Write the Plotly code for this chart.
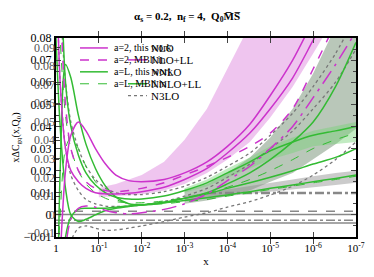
import plotly.graph_objects as go

# ---------------- data ----------------
X = [1, 0.8, 0.6, 0.45, 0.3, 0.2, 0.12, 0.07, 0.04, 0.02, 0.01,
     3e-3, 1e-3, 3e-4, 1e-4, 3e-5, 1e-5, 3e-6, 1e-6, 3e-7, 1e-7]

# magenta (a=2) curves
m_nlo = [None, -0.02, 0.02, 0.036, 0.042, 0.038, 0.030, 0.023, 0.018, 0.0155, 0.015,
         0.016, 0.019, 0.024, 0.031, 0.041, 0.054, 0.070, 0.088, 0.108, 0.13]
m_nlo2 = [0.12, 0.06, 0.030, 0.020, 0.015, 0.012, 0.010, 0.0095, 0.0095, 0.0098, 0.0105,
          0.0125, 0.016, 0.021, 0.028, 0.037, 0.048, 0.062, 0.079, 0.098, 0.12]
m_low = [-0.12, -0.05, -0.015, -0.002, 0.003, 0.004, 0.0035, 0.002, 0.001, 0.0005, 0.001,
         0.0025, 0.005, 0.0095, 0.0155, 0.022, 0.030, 0.040, 0.053, 0.068, 0.083]
m_ll = [0.2, 0.10, 0.05, 0.030, 0.020, 0.015, 0.012, 0.011, 0.0105, 0.011, 0.012,
        0.0145, 0.018, 0.022, 0.026, 0.031, 0.037, 0.048, 0.066, 0.087, 0.11]

# green (a=L) curves
g_nnlo1 = [-0.1, 0.02, 0.068, 0.062, 0.045, 0.032, 0.021, 0.013, 0.008, 0.005, 0.0045,
           0.0055, 0.0075, 0.010, 0.014, 0.019, 0.025, 0.033, 0.042, 0.058, 0.078]
g_nnlo2 = [0.2, 0.12, 0.06, 0.04, 0.027, 0.019, 0.0135, 0.010, 0.008, 0.0072, 0.0072,
           0.0085, 0.011, 0.0145, 0.019, 0.024, 0.029, 0.033, 0.036, 0.038, 0.040]
g_nnlo3 = [-0.15, -0.05, -0.01, -0.001, 0.0025, 0.003, 0.003, 0.003, 0.0035, 0.004, 0.0045,
           0.0058, 0.0075, 0.0095, 0.012, 0.0145, 0.017, 0.020, 0.023, 0.026, 0.030]
g_nnlo4 = [0.08, 0.04, 0.012, 0.0, -0.003, -0.002, 0.0, 0.002, 0.003, 0.0038, 0.0045,
           0.0055, 0.0065, 0.0078, 0.009, 0.0105, 0.012, 0.0135, 0.015, 0.0165, 0.018]
g_ll1 = [0.15, 0.08, 0.045, 0.030, 0.020, 0.014, 0.010, 0.0075, 0.006, 0.0055, 0.0055,
         0.0063, 0.0078, 0.0098, 0.0125, 0.016, 0.020, 0.025, 0.030, 0.034, 0.037]
g_ll2 = [-0.05, 0.0, 0.03, 0.035, 0.03, 0.022, 0.015, 0.010, 0.007, 0.005, 0.0048,
         0.005, 0.006, 0.007, 0.0085, 0.010, 0.0115, 0.013, 0.0145, 0.016, 0.0175]

# gray dotted (N3LO)
d_n3lo1 = [0.2, 0.1, 0.06, 0.042, 0.03, 0.022, 0.016, 0.012, 0.010, 0.0092, 0.0092,
           0.0105, 0.013, 0.017, 0.022, 0.028, 0.036, 0.046, 0.058, 0.073, 0.09]
d_n3lo2 = [-0.2, -0.08, -0.03, -0.012, -0.006, -0.005, -0.006, -0.007, -0.0068, -0.006, -0.005,
           -0.003, -0.001, 0.001, 0.0035, 0.006, 0.009, 0.013, 0.018, 0.025, 0.033]
d_n3lo3 = [0.12, 0.06, 0.03, 0.018, 0.011, 0.007, 0.005, 0.004, 0.0038, 0.004, 0.0045,
           0.006, 0.0085, 0.012, 0.017, 0.023, 0.030, 0.038, 0.048, 0.060, 0.075]

# flat gray reference lines
h_levels = [0.0099, 0.0017, 0.0002, -0.0024, -0.0037]
h_start = [3e-4, 1, 1, 1, 1]

# bands (x from 0.1 for pink, from 1e-3 for others)
XP = [0.1, 0.07, 0.04, 0.02, 0.01, 3e-3, 1e-3, 3e-4, 1e-4, 3e-5, 1e-5, 3e-6, 1e-6, 3e-7, 1e-7]
pink_lo = [0.008, 0.0082, 0.0085, 0.0088, 0.0092, 0.011, 0.014, 0.019, 0.025, 0.033, 0.044,
           0.058, 0.073, 0.090, 0.110]
pink_hi = [0.012, 0.013, 0.014, 0.016, 0.018, 0.024, 0.034, 0.048, 0.066, 0.086, 0.108,
           0.13, 0.15, 0.17, 0.19]
XB = [1e-3, 3e-4, 1e-4, 3e-5, 1e-5, 3e-6, 1e-6, 3e-7, 1e-7]
dg_hi = [0.011, 0.014, 0.019, 0.026, 0.035, 0.048, 0.064, 0.085, 0.11]
dg_lo = [0.005, 0.0065, 0.0085, 0.011, 0.015, 0.019, 0.025, 0.032, 0.039]
lg_hi = [0.012, 0.016, 0.021, 0.026, 0.031, 0.035, 0.038, 0.040, 0.042]
lg_lo = [0.010, 0.013, 0.017, 0.021, 0.025, 0.028, 0.031, 0.032, 0.033]
gr_hi = [0.0085, 0.010, 0.0115, 0.013, 0.0145, 0.016, 0.0175, 0.019, 0.020]
gr_lo = [0.0065, 0.0075, 0.0085, 0.0095, 0.0105, 0.0115, 0.0125, 0.0135, 0.0145]

x_ticks = [1, 1e-1, 1e-2, 1e-3, 1e-4, 1e-5, 1e-6, 1e-7]
x_ticktext = ["1", "10<sup>-1</sup>", "10<sup>-2</sup>", "10<sup>-3</sup>", "10<sup>-4</sup>",
              "10<sup>-5</sup>", "10<sup>-6</sup>", "10<sup>-7</sup>"]

leg1_names = ["a=2, this work", "a=2, MBll in", "a=L, this work", "a=L, MBll in"]
leg2_names = ["NLO", "NLO+LL", "NNLO", "NNLO+LL", "N3LO"]

MAG = "#cc33cc"
GRN = "#33bb33"
GRY = "#777777"
FONT = "Liberation Serif, DejaVu Serif, serif"

fig = go.Figure()


def band(xs, lo, hi, color):
    fig.add_trace(go.Scatter(x=xs + xs[::-1], y=hi + lo[::-1], fill="toself",
                             fillcolor=color, line=dict(width=0), mode="lines",
                             showlegend=False, hoverinfo="skip"))


band(XP, pink_lo, pink_hi, "rgba(225,150,225,0.55)")
band(XB, dg_lo, dg_hi, "rgba(100,130,100,0.45)")
band(XB, lg_lo, lg_hi, "rgba(120,210,120,0.45)")
band(XB, gr_lo, gr_hi, "rgba(140,140,140,0.45)")


def line(ys, color, width=1.5, dash="solid"):
    fig.add_trace(go.Scatter(x=X, y=ys, mode="lines", line=dict(color=color, width=width, dash=dash,
                                                                  shape="spline", smoothing=0.8),
                             showlegend=False, hoverinfo="skip"))


for lv, st in zip(h_levels, h_start):
    xs = [v for v in X if v <= st]
    fig.add_trace(go.Scatter(x=xs, y=[lv] * len(xs), mode="lines",
                             line=dict(color="#888888", width=2.5 if lv > 0.005 else 1.5,
                                       dash="dashdot" if lv in (0.0099, -0.0024) else (
                                           "dash" if lv == 0.0017 else "solid")),
                             showlegend=False, hoverinfo="skip"))

line(d_n3lo1, GRY, 1.3, "dot")
line(d_n3lo2, GRY, 1.3, "dot")
line(d_n3lo3, GRY, 1.3, "dot")
line(g_ll1, GRN, 1.0, "dash")
line(g_ll2, GRN, 1.0, "dash")
line(g_nnlo1, GRN, 1.5)
line(g_nnlo2, GRN, 1.5)
line(g_nnlo3, GRN, 1.5)
line(g_nnlo4, GRN, 1.5)
line(m_ll, MAG, 1.5, "dash")
line(m_nlo, MAG, 1.5)
line(m_nlo2, MAG, 1.5)
line(m_low, MAG, 1.5, "longdashdot")

# dummy for overlaid axis
fig.add_trace(go.Scatter(x=[], y=[], yaxis="y2", showlegend=False))

# legend drawn as annotations + short sample lines
rows_y = [0.95, 0.89, 0.83, 0.77, 0.71]
sample1 = [(MAG, "solid", 1.5), (MAG, "dash", 1.5), (GRN, "solid", 1.5), (GRN, "dash", 1.0)]
for i, name in enumerate(leg1_names):
    c, d, w = sample1[i]
    fig.add_shape(type="line", xref="paper", yref="paper", x0=0.08, x1=0.173,
                  y0=rows_y[i], y1=rows_y[i], line=dict(color=c, dash=d, width=w))
    fig.add_annotation(xref="paper", yref="paper", x=0.187, y=rows_y[i], text=name,
                       showarrow=False, xanchor="left", yanchor="middle",
                       font=dict(family=FONT, size=10, color="black"))
sample2 = [None, (MAG, "solid", 1.5), None, (GRN, "solid", 1.5), (GRY, "dot", 1.3)]
for i, name in enumerate(leg2_names):
    if sample2[i]:
        c, d, w = sample2[i]
        fig.add_shape(type="line", xref="paper", yref="paper", x0=0.24, x1=0.303,
                      y0=rows_y[i], y1=rows_y[i], line=dict(color=c, dash=d, width=w))
    fig.add_annotation(xref="paper", yref="paper", x=0.31, y=rows_y[i], text=name,
                       showarrow=False, xanchor="left", yanchor="middle",
                       font=dict(family=FONT, size=11, color="black"))

fig.update_layout(
    width=374, height=277,
    margin=dict(l=56, r=18, t=38, b=40),
    paper_bgcolor="white", plot_bgcolor="white",
    font=dict(family=FONT, size=10, color="black"),
    title=dict(text="<b>α<sub>s</sub> = 0.2,  n<sub>f</sub> = 4,  Q<sub>0</sub>M̅S̅</b>",
               x=0.5, y=0.955, xanchor="center", font=dict(family=FONT, size=11)),
    xaxis=dict(type="log", range=[0, -7], tickvals=x_ticks, ticktext=x_ticktext,
               ticks="inside", ticklen=5, mirror="allticks", showline=True,
               linecolor="black", linewidth=2, showgrid=False, zeroline=False,
               automargin=False,
               title=dict(text="x", standoff=4, font=dict(family=FONT, size=11)),
               tickfont=dict(family=FONT, size=11)),
    yaxis=dict(range=[-0.01, 0.08], dtick=0.01, ticks="inside", ticklen=5,
               mirror="allticks", showline=True, linecolor="black", linewidth=2,
               showgrid=False, zeroline=False, tickformat="~g", automargin=False,
               tickfont=dict(family=FONT, size=12),
               minor=dict(ticks="inside", ticklen=3, dtick=0.005),
               title=dict(text="xΔC<sub>gq</sub>(x,Q<sub>0</sub>)", standoff=2,
                          font=dict(family=FONT, size=10))),
    yaxis2=dict(range=[-0.012, 0.095], dtick=0.01, overlaying="y", side="left",
                ticks="inside", ticklen=4, showgrid=False, zeroline=False,
                showline=False, tickformat="~g", automargin=False,
                tickfont=dict(family=FONT, size=12, color="#555555")),
)

fig.write_html("out.html", config={"displayModeBar": False},
               post_script="document.body.style.margin='0';")
